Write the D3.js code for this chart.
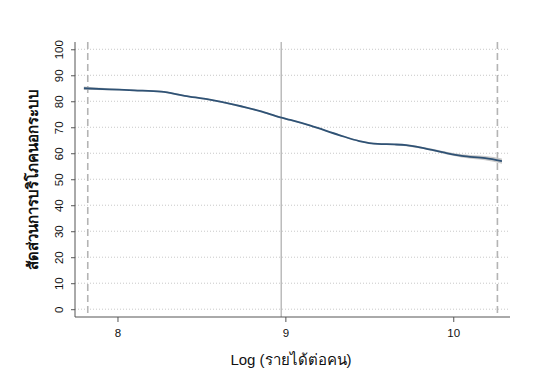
<!DOCTYPE html>
<html>
<head>
<meta charset="utf-8">
<script src="https://cdn.jsdelivr.net/npm/d3@7"></script>
<style>
  body { margin: 0; background: #fff; }
  svg { font-family: Arial, "Liberation Sans", sans-serif; }
</style>
</head>
<body>
<svg class="chart"></svg>
<script>
var xVals = [7.80, 7.95, 8.10, 8.26, 8.40, 8.55, 8.70, 8.85, 8.97, 9.03, 9.15, 9.32, 9.44, 9.55, 9.65, 9.72, 9.83, 9.95, 10.05, 10.19, 10.29];
var fitVals = [85.0, 84.6, 84.2, 83.7, 82.1, 80.6, 78.6, 76.2, 73.8, 72.8, 70.6, 67.0, 64.7, 63.6, 63.4, 63.1, 61.9, 60.2, 59.0, 58.1, 57.0];
var ciLow = [84.3, 84.2, 83.9, 83.4, 81.8, 80.3, 78.3, 75.9, 73.5, 72.5, 70.3, 66.7, 64.4, 63.3, 63.1, 62.7, 61.5, 59.7, 58.4, 57.3, 56.0];
var ciHigh = [85.7, 85.0, 84.5, 84.0, 82.4, 80.9, 78.9, 76.5, 74.1, 73.1, 70.9, 67.3, 65.0, 63.9, 63.7, 63.5, 62.3, 60.7, 59.6, 58.9, 58.0];
var yTicks = [0, 10, 20, 30, 40, 50, 60, 70, 80, 90, 100];
var xTicks = [8, 9, 10];
var refLines = [7.823, 10.263];
var meanLine = 8.975;
var yTitle = 'สัดส่วนการบริโภคนอกระบบ';
var xTitle = 'Log (รายได้ต่อคน)';

var width = 540, height = 388;
var plotLeft = 75, plotRight = 510, plotTop = 42, plotBottom = 317;

var svg = d3.select('.chart').attr('width', width).attr('height', height);

var x = d3.scaleLinear().domain([7.747, 10.338]).range([plotLeft, plotRight]);
var y = d3.scaleLinear().domain([-3, 102.8]).range([plotBottom, plotTop]);

// gridlines
svg.append('g').selectAll('line')
  .data(yTicks)
  .enter()
  .append('line')
  .attr('x1', plotLeft).attr('x2', plotRight - 2)
  .attr('y1', function(d) { return y(d); })
  .attr('y2', function(d) { return y(d); })
  .attr('stroke', '#c8c8c8')
  .attr('stroke-width', 1)
  .attr('stroke-dasharray', '1,2');

// reference lines
svg.append('g').selectAll('line')
  .data(refLines)
  .enter()
  .append('line')
  .attr('x1', function(d) { return x(d); })
  .attr('x2', function(d) { return x(d); })
  .attr('y1', plotTop).attr('y2', plotBottom)
  .attr('stroke', '#b4b4b4')
  .attr('stroke-width', 1.6)
  .attr('stroke-dasharray', '7,4');

svg.append('line')
  .attr('x1', x(meanLine)).attr('x2', x(meanLine))
  .attr('y1', plotTop).attr('y2', plotBottom)
  .attr('stroke', '#9a9a9a')
  .attr('stroke-width', 1);

// confidence band
var area = d3.area()
  .x(function(d, i) { return x(xVals[i]); })
  .y0(function(d, i) { return y(ciLow[i]); })
  .y1(function(d, i) { return y(ciHigh[i]); })
  .curve(d3.curveMonotoneX);

svg.append('path')
  .datum(xVals)
  .attr('d', area)
  .attr('fill', '#c4c4c4')
  .attr('opacity', 0.9);

var line = d3.line()
  .x(function(d, i) { return x(xVals[i]); })
  .y(function(d) { return y(d); })
  .curve(d3.curveMonotoneX);

svg.append('path')
  .datum(fitVals)
  .attr('d', line)
  .attr('fill', 'none')
  .attr('stroke', '#2f5275')
  .attr('stroke-width', 1.8);

// axes
var yAxis = svg.append('g')
  .attr('transform', 'translate(' + plotLeft + ',0)')
  .call(d3.axisLeft(y).tickValues(yTicks).tickSize(4).tickPadding(3).tickSizeOuter(0));
yAxis.select('.domain').attr('d', 'M0,' + plotTop + 'V' + plotBottom).attr('stroke', '#555');
yAxis.selectAll('.tick line').attr('stroke', '#555');
yAxis.selectAll('.tick text')
  .attr('x', 0).attr('dy', null)
  .attr('transform', 'translate(-12,0) rotate(-90)')
  .attr('text-anchor', 'middle')
  .attr('fill', '#111')
  .style('font-size', '11.5px');

var xAxis = svg.append('g')
  .attr('transform', 'translate(0,' + plotBottom + ')')
  .call(d3.axisBottom(x).tickValues(xTicks).tickFormat(d3.format('d')).tickSize(5).tickPadding(7).tickSizeOuter(0));
xAxis.select('.domain').attr('d', 'M' + plotLeft + ',0H' + plotRight).attr('stroke', '#555');
xAxis.selectAll('.tick line').attr('stroke', '#555');
xAxis.selectAll('.tick text').attr('fill', '#111').style('font-size', '11.5px');

// titles
svg.append('text')
  .attr('transform', 'translate(38,179) rotate(-90)')
  .attr('text-anchor', 'middle')
  .style('font-size', '15px')
  .style('font-weight', 'bold')
  .attr('fill', '#111')
  .text(yTitle);

svg.append('text')
  .attr('x', 291).attr('y', 365)
  .attr('text-anchor', 'middle')
  .style('font-size', '15px')
  .attr('fill', '#111')
  .text(xTitle);
</script>
</body>
</html>
